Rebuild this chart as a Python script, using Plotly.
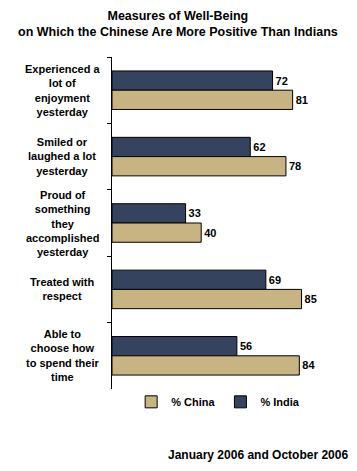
import plotly.graph_objects as go

categories = [
    "Experienced a<br>lot of<br>enjoyment<br>yesterday",
    "Smiled or<br>laughed a lot<br>yesterday",
    "Proud of<br>something<br>they<br>accomplished<br>yesterday",
    "Treated with<br>respect",
    "Able to<br>choose how<br>to spend their<br>time",
]
cat_ids = ["c1", "c2", "c3", "c4", "c5"]
india = [72, 62, 33, 69, 56]
china = [81, 78, 40, 85, 84]

FONT = "Liberation Sans, Arial, sans-serif"
lbl_font = dict(family=FONT, size=11, color="black", weight="bold")

fig = go.Figure()
fig.add_trace(go.Bar(
    y=cat_ids, x=india, orientation="h", name="% India",
    marker=dict(color="#36435E", line=dict(color="black", width=1)),
    text=[str(v) for v in india], textposition="outside",
    textfont=lbl_font, cliponaxis=False,
))
fig.add_trace(go.Bar(
    y=cat_ids, x=china, orientation="h", name="% China",
    marker=dict(color="#C8B482", line=dict(color="black", width=1)),
    text=[str(v) for v in china], textposition="outside",
    textfont=lbl_font, cliponaxis=False,
))

for cid, lab in zip(cat_ids, categories):
    fig.add_annotation(
        x=-0.222, xref="paper", y=cid, yref="y", text=lab,
        showarrow=False, xanchor="center", yanchor="middle", align="center",
        font=dict(family=FONT, size=11, color="black", weight="bold"),
    )

fig.add_annotation(
    x=1.067, xref="paper", y=-0.2, yref="paper",
    text="January 2006 and October 2006", showarrow=False,
    xanchor="right", yanchor="middle",
    font=dict(family=FONT, size=12, color="black", weight="bold"),
)

fig.add_annotation(
    x=0.298, xref="paper", y=1.0994, yref="paper",
    text="Measures of Well-Being<br>on Which the Chinese Are More Positive Than Indians",
    showarrow=False, xanchor="center", yanchor="middle", align="center",
    font=dict(family=FONT, size=12.5, color="black", weight="bold"),
)

fig.update_layout(
    width=357, height=471,
    margin=dict(l=112, r=22, t=57, b=82),
    paper_bgcolor="white", plot_bgcolor="white",
    barmode="group", bargap=0.42, bargroupgap=0,
    xaxis=dict(visible=False, range=[0, 100]),
    yaxis=dict(
        type="category", autorange="reversed", showline=True,
        linecolor="black", linewidth=1, ticks="outside", tickson="boundaries",
        ticklen=4, tickcolor="black", showticklabels=False, showgrid=False,
        zeroline=False,
    ),
    showlegend=True,
    legend=dict(
        orientation="h", traceorder="reversed",
        x=0.476, xanchor="center", y=0.005, yanchor="top",
        font=dict(family=FONT, size=11, color="black", weight="bold"),
        itemwidth=30, tracegroupgap=0,
    ),
)

fig.write_html("out.html", config={"displayModeBar": False},
               post_script="document.body.style.margin='0';")
